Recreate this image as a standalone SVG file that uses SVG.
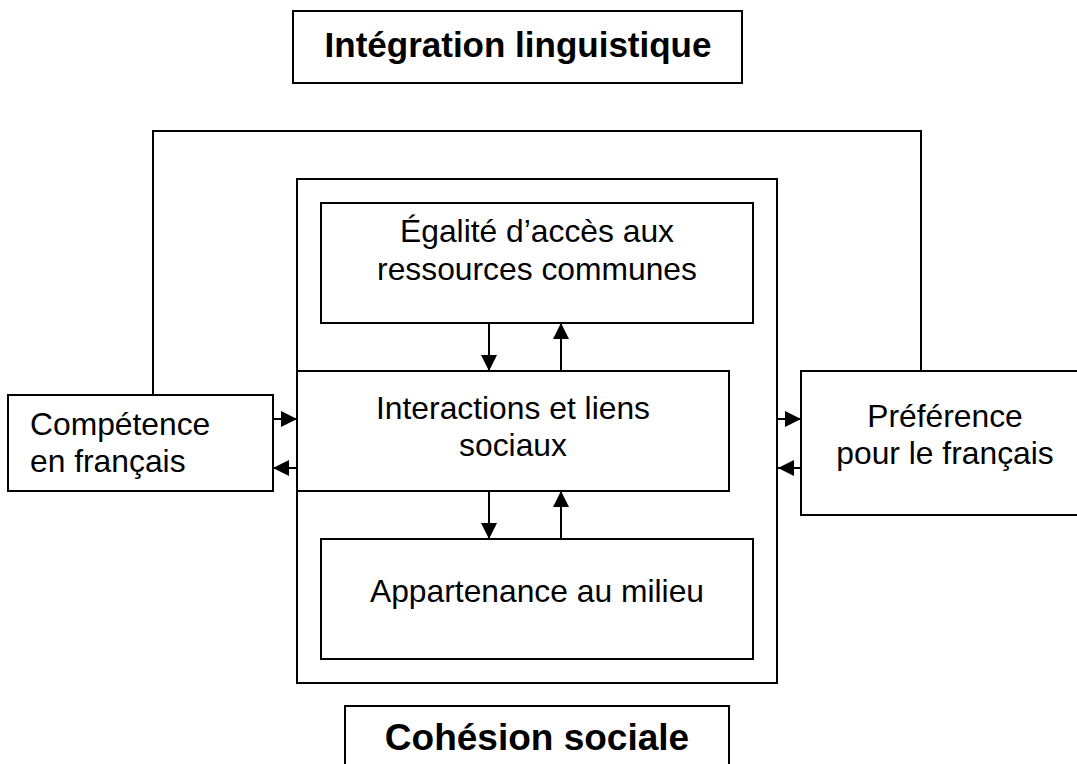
<svg xmlns="http://www.w3.org/2000/svg" width="1077" height="764" viewBox="0 0 1077 764">
<style>
.box{fill:#fff;stroke:#000;stroke-width:2}
.frame{fill:none;stroke:#000;stroke-width:2}
.ln{fill:none;stroke:#000;stroke-width:2}
.t{font-family:"Liberation Sans",Arial,sans-serif;font-size:31.8px;fill:#000}
.b{font-family:"Liberation Sans",Arial,sans-serif;font-weight:bold;fill:#000}
</style>
<defs>
<marker id="ah" markerUnits="userSpaceOnUse" markerWidth="17" markerHeight="16" refX="16" refY="8" orient="auto">
<path d="M0,0 L16,8 L0,16 z" fill="#000"/>
</marker>
</defs>
<rect width="1077" height="764" fill="#fff"/>
<g id="cohesion-frame">
<rect class="frame" x="297" y="179" width="480" height="504"/>
</g>
<g id="connectors">
<path class="ln" d="M153,395 V131 H921 V371"/>
<line class="ln" x1="273" y1="419" x2="297" y2="419" marker-end="url(#ah)"/>
<line class="ln" x1="297" y1="468" x2="273" y2="468" marker-end="url(#ah)"/>
<line class="ln" x1="778" y1="419" x2="801" y2="419" marker-end="url(#ah)"/>
<line class="ln" x1="801" y1="468" x2="778" y2="468" marker-end="url(#ah)"/>
<line class="ln" x1="489" y1="323" x2="489" y2="371" marker-end="url(#ah)"/>
<line class="ln" x1="561" y1="371" x2="561" y2="323" marker-end="url(#ah)"/>
<line class="ln" x1="489" y1="491" x2="489" y2="539" marker-end="url(#ah)"/>
<line class="ln" x1="561" y1="539" x2="561" y2="491" marker-end="url(#ah)"/>
</g>
<g id="title">
<rect class="box" x="293" y="11" width="449" height="72"/>
<text class="b" x="518" y="57" font-size="35" text-anchor="middle">Intégration linguistique</text>
</g>
<g id="egalite">
<rect class="box" x="321" y="203" width="432" height="120"/>
<text class="t" x="537" y="242" text-anchor="middle">Égalité d’accès aux</text>
<text class="t" x="537" y="280" text-anchor="middle">ressources communes</text>
</g>
<g id="interactions">
<rect class="box" x="297" y="371" width="432" height="120"/>
<text class="t" x="513" y="419" text-anchor="middle">Interactions et liens</text>
<text class="t" x="513" y="456" text-anchor="middle">sociaux</text>
</g>
<g id="appartenance">
<rect class="box" x="321" y="539" width="432" height="120"/>
<text class="t" x="537" y="602" text-anchor="middle">Appartenance au milieu</text>
</g>
<g id="competence">
<rect class="box" x="8" y="395" width="265" height="96"/>
<text class="t" x="30" y="435">Compétence</text>
<text class="t" x="30" y="472">en français</text>
</g>
<g id="preference">
<rect class="box" x="801" y="371" width="280" height="144"/>
<text class="t" x="945" y="427" text-anchor="middle">Préférence</text>
<text class="t" x="945" y="464" text-anchor="middle">pour le français</text>
</g>
<g id="cohesion">
<rect class="box" x="345" y="706" width="384" height="70"/>
<text class="b" x="537" y="750" font-size="37" text-anchor="middle">Cohésion sociale</text>
</g>
</svg>
